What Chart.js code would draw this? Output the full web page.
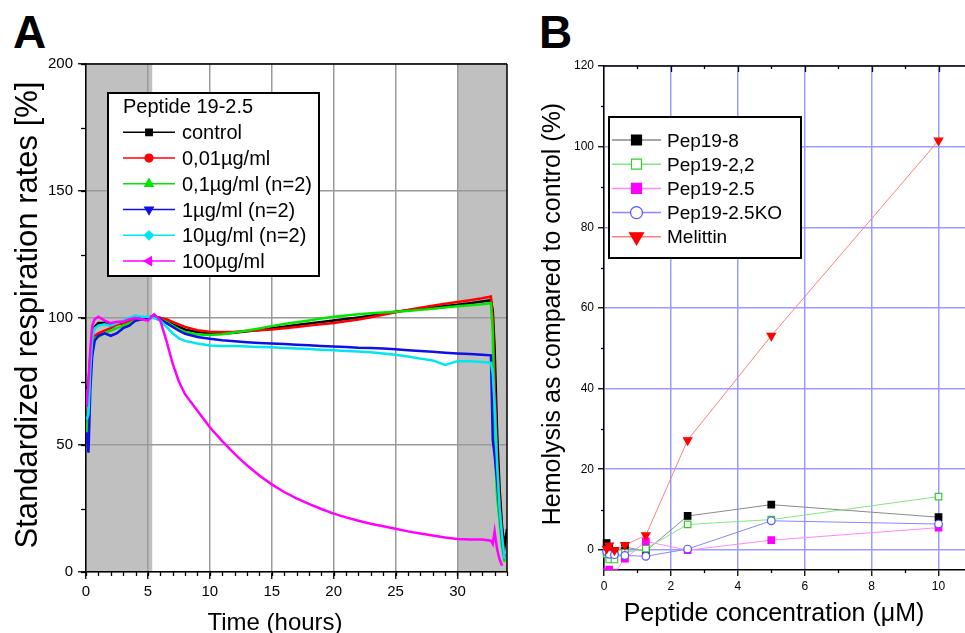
<!DOCTYPE html>
<html>
<head>
<meta charset="utf-8">
<title>Respiration rates and hemolysis</title>
<script src="https://cdn.jsdelivr.net/npm/chart.js@4.4.1/dist/chart.umd.min.js"></script>
<style>
  html, body { margin: 0; padding: 0; background: #fff; }
  body { position: relative; width: 965px; height: 633px; overflow: hidden; }
  canvas { position: absolute; left: 0; top: 0; }
  .letter { position: absolute; font: bold 46px 'Liberation Sans', Arial, sans-serif; line-height: 1; color: #000; }
</style>
</head>
<body>
<div class="letter" style="left:13px;top:9px">A</div>
<div class="letter" style="left:539px;top:9px">B</div>
<canvas id="chartA" width="965" height="633"></canvas>
<canvas id="chartB" width="990" height="633"></canvas>
<script>
// ---- panel A: respiration traces ----
const hours = [0.05, 0.2, 0.35, 0.5, 0.7, 1, 1.5, 2, 2.5, 3, 3.5, 4, 4.5, 5, 5.5,
  6, 6.5, 7, 7.5, 8, 9, 10, 11, 12, 13, 14, 15, 16, 17, 18, 19, 20, 21, 22, 23, 24,
  25, 26, 27, 28, 29, 30, 31, 32, 32.7, 32.85, 33, 33.2, 33.4, 33.6, 33.8, 34];
const control = [72, 74, 85, 93, 96.5, 98, 98, 97, 97.5, 98, 98.5, 99.5, 100, 100, 100.5,
  100, 99, 97.5, 96.5, 95.5, 94.5, 94, 93.8, 94.2, 94.8, 95.3, 96, 96.6, 97.2, 97.8, 98.4, 99,
  99.6, 100.2, 100.9, 101.7, 102.5, 103.1, 103.6, 104.1, 104.7, 105.2, 105.8, 106.5,
  107, 103, 88, 55, 33, 18, 10, 17];
const dose001 = [65, 70, 82, 90, 93, 94, 95, 96, 97.5, 98, 98.5, 99, 99.5, 100, 100.5,
  100, 99.5, 98.5, 97.5, 96.5, 95.2, 94.6, 94.5, 94.6, 94.9, 95.2, 95.5, 96, 96.5, 97, 97.5, 98,
  98.7, 99.4, 100.3, 101.3, 102.3, 103.2, 104, 104.8, 105.6, 106.3, 107, 107.8,
  108.5, 100, 75, 45, 28, 14, 6, null];
const dose01 = [55, 62, 78, 86, 92, 92.5, 94, 95, 96, 97, 98, 99, 99.5, 100, 100,
  99.5, 98.5, 97, 95.5, 94.5, 93.5, 93.3, 93.6, 94.3, 95.1, 95.9, 96.8, 97.6, 98.3, 99, 99.8, 100.5,
  101, 101.5, 101.9, 102.2, 102.5, 102.8, 103.2, 103.6, 104.1, 104.6, 105, 105.4,
  105.8, 95, 50, 30, 20, 10, 4, null];
const dose1 = [55, 47, 72, 85, 91, 93, 94, 93, 94, 96, 97, 99, 99.5, 100, 101,
  99.5, 98, 96.5, 95, 93.8, 92.5, 91.8, 91.2, 90.8, 90.5, 90.2, 90, 89.8, 89.5, 89.3, 89, 88.8,
  88.6, 88.3, 88.2, 88, 87.7, 87.3, 87, 86.7, 86.3, 86, 85.8, 85.5,
  85.3, 52, 46, 36, 24, 13, 5, null];
const dose10 = [60, 62, 80, 92, 96, 97, 97.5, 97, 98, 99, 100, 101, 100.5, 100.5, 100,
  99, 96.5, 94, 92, 91, 90, 89.2, 89, 89, 88.8, 88.6, 88.5, 88.2, 88, 87.8, 87.5, 87.3,
  87, 86.8, 86.5, 86, 85.5, 84.8, 84, 83.3, 81.5, 83, 83, 82.7,
  82.3, 78, 66, 42, 25, 14, 5, null];
const dose100 = [65, 75, 88, 97, 99.5, 100.5, 99, 98, 98.5, 98.5, 99.5, 100, 99.5, 99, 101.5,
  99, 91, 82, 75, 70, 63.5, 57, 51.5, 46.5, 42, 38, 34.5, 31.5, 29, 26.8, 24.8, 23,
  21.5, 20.2, 19, 18, 17, 16, 15.2, 14.4, 13.6, 13, 12.8, 12.8,
  12.3, 11, 16, 9, 5, 2.5, null, null];
const shadedHours = [[0, 5.35], [30, 34]];

// ---- panel B: hemolysis ----
const concentrations = [0.078, 0.156, 0.3125, 0.625, 1.25, 2.5, 5, 10];
const pep198 = [1.7, 0.5, -0.3, 0.7, -0.3, 8.4, 11.2, 8.1];
const pep1922 = [-1, -2.4, -2.4, -0.7, 0.3, 6.3, 7.5, 13.2];
const pep1925 = [-5.5, -4.9, -5.7, -2.2, 2.1, -0.1, 2.4, 5.5];
const pep1925ko = [-0.5, -1.1, -1.2, -1.4, -1.6, 0.2, 7.2, 6.4];
const melittin = [0.3, 1.1, -0.1, 1.2, 3.6, 27.2, 53.1, 101.5];

const FONT = "'Liberation Sans', Arial, sans-serif";
Chart.defaults.font.family = FONT;
Chart.defaults.color = '#000';
Chart.defaults.animation = false;

const pts = (xs, ys) => xs.map((x, i) => ({ x, y: ys[i] })).filter((p) => p.y !== null);

function drawMarker(ctx, style, rot, x, y, s, fill, stroke) {
  ctx.save();
  ctx.translate(x, y);
  ctx.rotate((rot || 0) * Math.PI / 180);
  ctx.beginPath();
  if (style === 'rect') ctx.rect(-s, -s, 2 * s, 2 * s);
  else if (style === 'rectRot') { ctx.moveTo(0, -s); ctx.lineTo(s, 0); ctx.lineTo(0, s); ctx.lineTo(-s, 0); ctx.closePath(); }
  else if (style === 'triangle') { ctx.moveTo(0, -s); ctx.lineTo(s * 0.87, s * 0.5); ctx.lineTo(-s * 0.87, s * 0.5); ctx.closePath(); }
  else ctx.arc(0, 0, s, 0, Math.PI * 2);
  ctx.fillStyle = fill; ctx.fill();
  ctx.lineWidth = 1.2; ctx.strokeStyle = stroke; ctx.stroke();
  ctx.restore();
}

// grey time windows behind the grid
const shading = {
  id: 'shading',
  beforeDraw(chart, args, o) {
    if (!o.ranges) return;
    const { ctx, chartArea: a } = chart, sx = chart.scales.x;
    ctx.save();
    ctx.fillStyle = o.color;
    o.ranges.forEach(([from, to]) => {
      const x0 = sx.getPixelForValue(from), x1 = sx.getPixelForValue(to);
      ctx.fillRect(x0, a.top, x1 - x0, a.bottom - a.top);
    });
    ctx.restore();
  },
};

// closing sides of the plot frame
const frame = {
  id: 'frame',
  afterDraw(chart, args, o) {
    const { ctx, chartArea: a } = chart;
    ctx.save();
    ctx.strokeStyle = '#000'; ctx.lineWidth = 1.5;
    ctx.beginPath();
    if ((o.sides || []).includes('top')) { ctx.moveTo(a.left, a.top); ctx.lineTo(a.right, a.top); }
    if ((o.sides || []).includes('right')) { ctx.moveTo(a.right, a.top); ctx.lineTo(a.right, a.bottom); }
    ctx.stroke();
    ctx.restore();
  },
};

// short in-between tick marks
const minorTicks = {
  id: 'minorTicks',
  afterDraw(chart, args, o) {
    const { ctx, chartArea: a } = chart;
    ctx.save();
    ctx.strokeStyle = '#000'; ctx.lineWidth = 1.3;
    (o.marks || []).forEach((m) => {
      const sc = chart.scales[m.axis];
      for (let v = m.from; v <= m.to + 1e-9; v += m.step) {
        const p = Math.round(sc.getPixelForValue(v)) + 0.5;
        ctx.beginPath();
        if (m.side === 'bottom') { ctx.moveTo(p, a.bottom); ctx.lineTo(p, a.bottom + m.len); }
        else if (m.side === 'top') { ctx.moveTo(p, a.top); ctx.lineTo(p, a.top + m.len); }
        else { ctx.moveTo(a.left, p); ctx.lineTo(a.left - m.len, p); }
        ctx.stroke();
      }
    });
    ctx.restore();
  },
};

// framed legend with line + marker samples
const boxLegend = {
  id: 'boxLegend',
  afterDraw(chart, args, o) {
    if (!o.box) return;
    const ctx = chart.ctx, [bx, by, bw, bh] = o.box;
    ctx.save();
    ctx.fillStyle = '#fff'; ctx.fillRect(bx, by, bw, bh);
    ctx.strokeStyle = '#000'; ctx.lineWidth = 2; ctx.strokeRect(bx, by, bw, bh);
    ctx.font = o.size + 'px ' + FONT;
    ctx.textBaseline = 'alphabetic';
    if (o.title) { ctx.fillStyle = '#000'; ctx.fillText(o.title, o.titleX, o.titleY); }
    chart.data.datasets.forEach((ds, i) => {
      const y = o.rowY + i * o.rowGap;
      ctx.strokeStyle = ds.legendLine || ds.borderColor; ctx.lineWidth = 1.5;
      ctx.beginPath(); ctx.moveTo(o.lineX0, y); ctx.lineTo(o.lineX1, y); ctx.stroke();
      drawMarker(ctx, ds.pointStyle, ds.pointRotation, (o.lineX0 + o.lineX1) / 2, y,
        ds.legendSize, ds.pointBackgroundColor, ds.pointBorderColor);
      ctx.fillStyle = '#000';
      ctx.fillText(ds.label, o.textX, y + o.size * 0.35);
    });
    ctx.restore();
  },
};

// axis titles placed where the original has them
const axisTitles = {
  id: 'axisTitles',
  afterDraw(chart, args, o) {
    const ctx = chart.ctx;
    (o.items || []).forEach((t) => {
      ctx.save();
      ctx.font = t.size + 'px ' + FONT;
      ctx.fillStyle = '#000'; ctx.textAlign = 'center'; ctx.textBaseline = 'alphabetic';
      ctx.translate(t.x, t.y);
      if (t.vertical) ctx.rotate(-Math.PI / 2);
      ctx.fillText(t.text, 0, 0);
      ctx.restore();
    });
  },
};

const traceA = (label, vals, color, style, rot, size, order) => ({
  label, data: pts(hours, vals), borderColor: color, borderWidth: 2.5,
  pointRadius: 0, pointStyle: style, pointRotation: rot, pointBackgroundColor: color,
  pointBorderColor: color, legendSize: size, tension: 0, order,
});

new Chart(document.getElementById('chartA'), {
  type: 'line',
  data: {
    datasets: [
      traceA('control', control, '#000000', 'rect', 0, 3.3, 6),
      traceA('0,01µg/ml', dose001, '#ff0000', 'circle', 0, 4, 5),
      traceA('0,1µg/ml (n=2)', dose01, '#00e600', 'triangle', 0, 5, 4),
      traceA('1µg/ml (n=2)', dose1, '#1010e6', 'triangle', 180, 5, 3),
      traceA('10µg/ml (n=2)', dose10, '#00e6ee', 'rectRot', 0, 4.5, 2),
      traceA('100µg/ml', dose100, '#ff00ff', 'triangle', -90, 5, 1),
    ],
  },
  options: {
    responsive: false, animation: false, events: [],
    layout: { padding: { left: 0, top: 64, right: 458, bottom: 0 } },
    plugins: {
      legend: { display: false }, tooltip: { enabled: false },
      shading: { ranges: shadedHours, color: '#c0c0c0' },
      frame: { sides: ['top', 'right'] },
      minorTicks: { marks: [
        { axis: 'x', side: 'bottom', from: 0, to: 34, step: 1, len: 4 },
        { axis: 'y', side: 'left', from: 0, to: 200, step: 25, len: 5 },
      ] },
      boxLegend: { box: [108, 93, 211, 183], size: 20, title: 'Peptide 19-2.5', titleX: 123, titleY: 113,
        rowY: 132.3, rowGap: 25.75, lineX0: 123, lineX1: 175, textX: 182 },
      axisTitles: { items: [
        { text: 'Standardized respiration rates [%]', x: 37, y: 315, size: 31, vertical: true },
        { text: 'Time (hours)', x: 275, y: 630, size: 24 },
      ] },
    },
    scales: {
      x: {
        type: 'linear', min: 0, max: 34,
        afterFit(s) { s.height = 61; },
        ticks: { stepSize: 5, includeBounds: false, autoSkip: false, maxRotation: 0, padding: 4, font: { size: 15 } },
        grid: { color: '#9a9a9a', lineWidth: 1.5, tickLength: 7, tickColor: '#000', tickWidth: 1.3 },
        border: { color: '#000', width: 1.5 },
      },
      y: {
        min: 0, max: 200,
        afterFit(s) { s.width = 86; },
        ticks: { stepSize: 50, autoSkip: false, padding: 5, font: { size: 15 } },
        grid: { color: '#9a9a9a', lineWidth: 1.5, tickLength: 8, tickColor: '#000', tickWidth: 1.3 },
        border: { color: '#000', width: 1.5 },
      },
    },
  },
  plugins: [shading, frame, minorTicks, boxLegend, axisTitles],
});

const seriesB = (label, vals, line, style, rot, fill, edge, r, size, order) => ({
  label, data: pts(concentrations, vals), borderColor: line, borderWidth: 1,
  pointStyle: style, pointRotation: rot, pointRadius: r, pointBackgroundColor: fill,
  pointBorderColor: edge, pointBorderWidth: 1.2, legendSize: size, legendLine: line,
  tension: 0, order, clip: { left: 8, top: 8, right: 8, bottom: 0 },
});

new Chart(document.getElementById('chartB'), {
  type: 'line',
  data: {
    datasets: [
      seriesB('Pep19-8', pep198, '#8a8a8a', 'rect', 0, '#000000', '#000000', 4.6, 5, 5),
      seriesB('Pep19-2,2', pep1922, '#80e880', 'rect', 0, '#ffffff', '#33cc33', 4.6, 5, 4),
      seriesB('Pep19-2.5', pep1925, '#ff88ff', 'rect', 0, '#ff00ff', '#ff00ff', 4.6, 5, 3),
      seriesB('Pep19-2.5KO', pep1925ko, '#8888ff', 'circle', 0, '#ffffff', '#5555ff', 3.8, 6, 2),
      seriesB('Melittin', melittin, '#ff8080', 'triangle', 180, '#ff0000', '#ff0000', 4.8, 8, 1),
    ],
  },
  options: {
    responsive: false, animation: false, events: [],
    layout: { padding: { left: 0, top: 66, right: 18, bottom: 0 } },
    plugins: {
      legend: { display: false }, tooltip: { enabled: false },
      frame: { sides: ['top'] },
      minorTicks: { marks: [
        { axis: 'x', side: 'bottom', from: 1, to: 11, step: 2, len: 3 },
        { axis: 'x', side: 'top', from: 2, to: 10, step: 2, len: 6 },
        { axis: 'x', side: 'top', from: 1, to: 11, step: 2, len: 3 },
        { axis: 'y', side: 'left', from: 10, to: 110, step: 20, len: 3 },
      ] },
      boxLegend: { box: [609, 117, 192, 141], size: 19,
        rowY: 140, rowGap: 24.2, lineX0: 612, lineX1: 661, textX: 667 },
      axisTitles: { items: [
        { text: 'Hemolysis as compared to control (%)', x: 560, y: 314, size: 25, vertical: true },
        { text: 'Peptide concentration (μM)', x: 774, y: 621, size: 25 },
      ] },
    },
    scales: {
      x: {
        type: 'linear', min: 0, max: 11,
        afterFit(s) { s.height = 63; },
        ticks: { stepSize: 2, includeBounds: false, autoSkip: false, maxRotation: 0, padding: 3, font: { size: 12 } },
        grid: { color: '#9c9cff', lineWidth: 1.5, tickLength: 6, tickColor: '#000', tickWidth: 1.3 },
        border: { color: '#000', width: 1.5 },
      },
      y: {
        min: -5, max: 120,
        afterFit(s) { s.width = 604; },
        ticks: { stepSize: 20, includeBounds: false, autoSkip: false, padding: 4, font: { size: 12 } },
        grid: { color: '#9c9cff', lineWidth: 1.5, tickLength: 6, tickColor: '#000', tickWidth: 1.3 },
        border: { color: '#000', width: 1.5 },
      },
    },
  },
  plugins: [frame, minorTicks, boxLegend, axisTitles],
});
</script>
</body>
</html>
